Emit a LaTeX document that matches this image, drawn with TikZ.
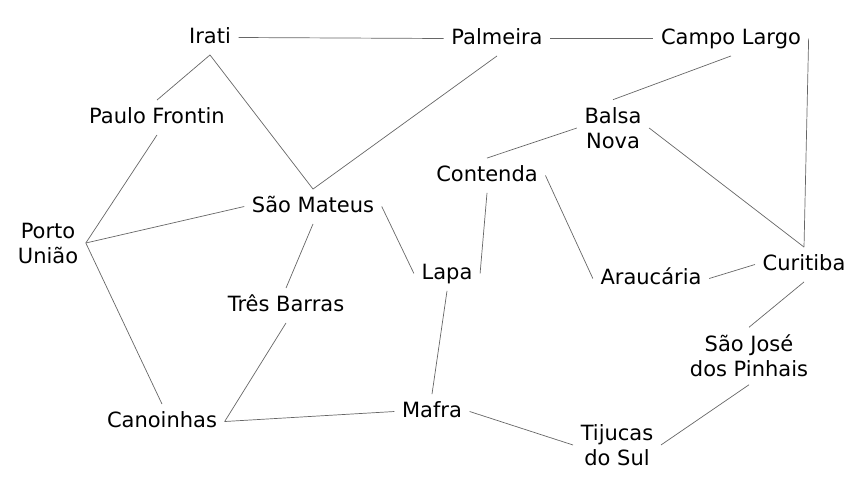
\documentclass[tikz,border=0pt]{standalone}
\usepackage{fontspec}
\setmainfont{DejaVu Sans}

\tikzset{
	city/.style={inner sep=7.5pt, font=\fontsize{21}{25}\selectfont, text height=15.5pt, text depth=4pt},
	city2/.style={inner sep=7.5pt, font=\fontsize{21}{25}\selectfont, align=center},
	road/.style={draw=black!60, line width=0.7pt}
}

\begin{document}
\begin{tikzpicture}[x=1pt, y=-1pt]
			\useasboundingbox (0, 0) rectangle (853, 480);
			
			\node[city] (irati) at (210, 37.5) {Irati};
			\node[city] (palmeira) at (497, 38.5) {Palmeira};
			\node[city] (campo) at (731, 38.5) {Campo Largo};
			\node[city] (paulo) at (157, 117.5) {Paulo Frontin};
			\node[city2] (balsa) at (613, 128) {Balsa\\Nova};
			\node[city] (contenda) at (487, 175.5) {Contenda};
			\node[city] (mateus) at (313, 206.5) {São Mateus};
			\node[city2] (porto) at (48, 243) {Porto\\União};
			\node[city] (lapa) at (447, 273.5) {Lapa};
			\node[city] (araucaria) at (651, 278.5) {Araucária};
			\node[city] (curitiba) at (804, 264.5) {Curitiba};
			\node[city] (tres) at (286, 305.5) {Três Barras};
			\node[city2] (sjp) at (749, 356) {São José\\dos Pinhais};
			\node[city] (canoinhas) at (162, 421.5) {Canoinhas};
			\node[city] (mafra) at (432, 411.5) {Mafra};
			\node[city2] (tijucas) at (617, 445) {Tijucas\\do Sul};
			
			\foreach \a/\b in {irati.east/palmeira.west, palmeira.east/campo.west,
				irati.south/paulo.north, irati.south/mateus.north, palmeira.south/mateus.north,
				campo.south/balsa.north, campo.east/curitiba.north,
				balsa.west/contenda.north, balsa.east/curitiba.north,
				contenda.south/lapa.east, contenda.east/araucaria.west,
				araucaria.east/curitiba.west, curitiba.south/sjp.north,
				sjp.south/tijucas.east, mafra.east/tijucas.west,
				lapa.south/mafra.north, mateus.east/lapa.west,
				mateus.south/tres.north, tres.south/canoinhas.east,
				canoinhas.east/mafra.west, porto.east/paulo.south,
				mateus.west/porto.east, porto.east/canoinhas.north}{
				\draw[road] (\a) -- (\b);
			}
		\end{tikzpicture}
\end{document}
